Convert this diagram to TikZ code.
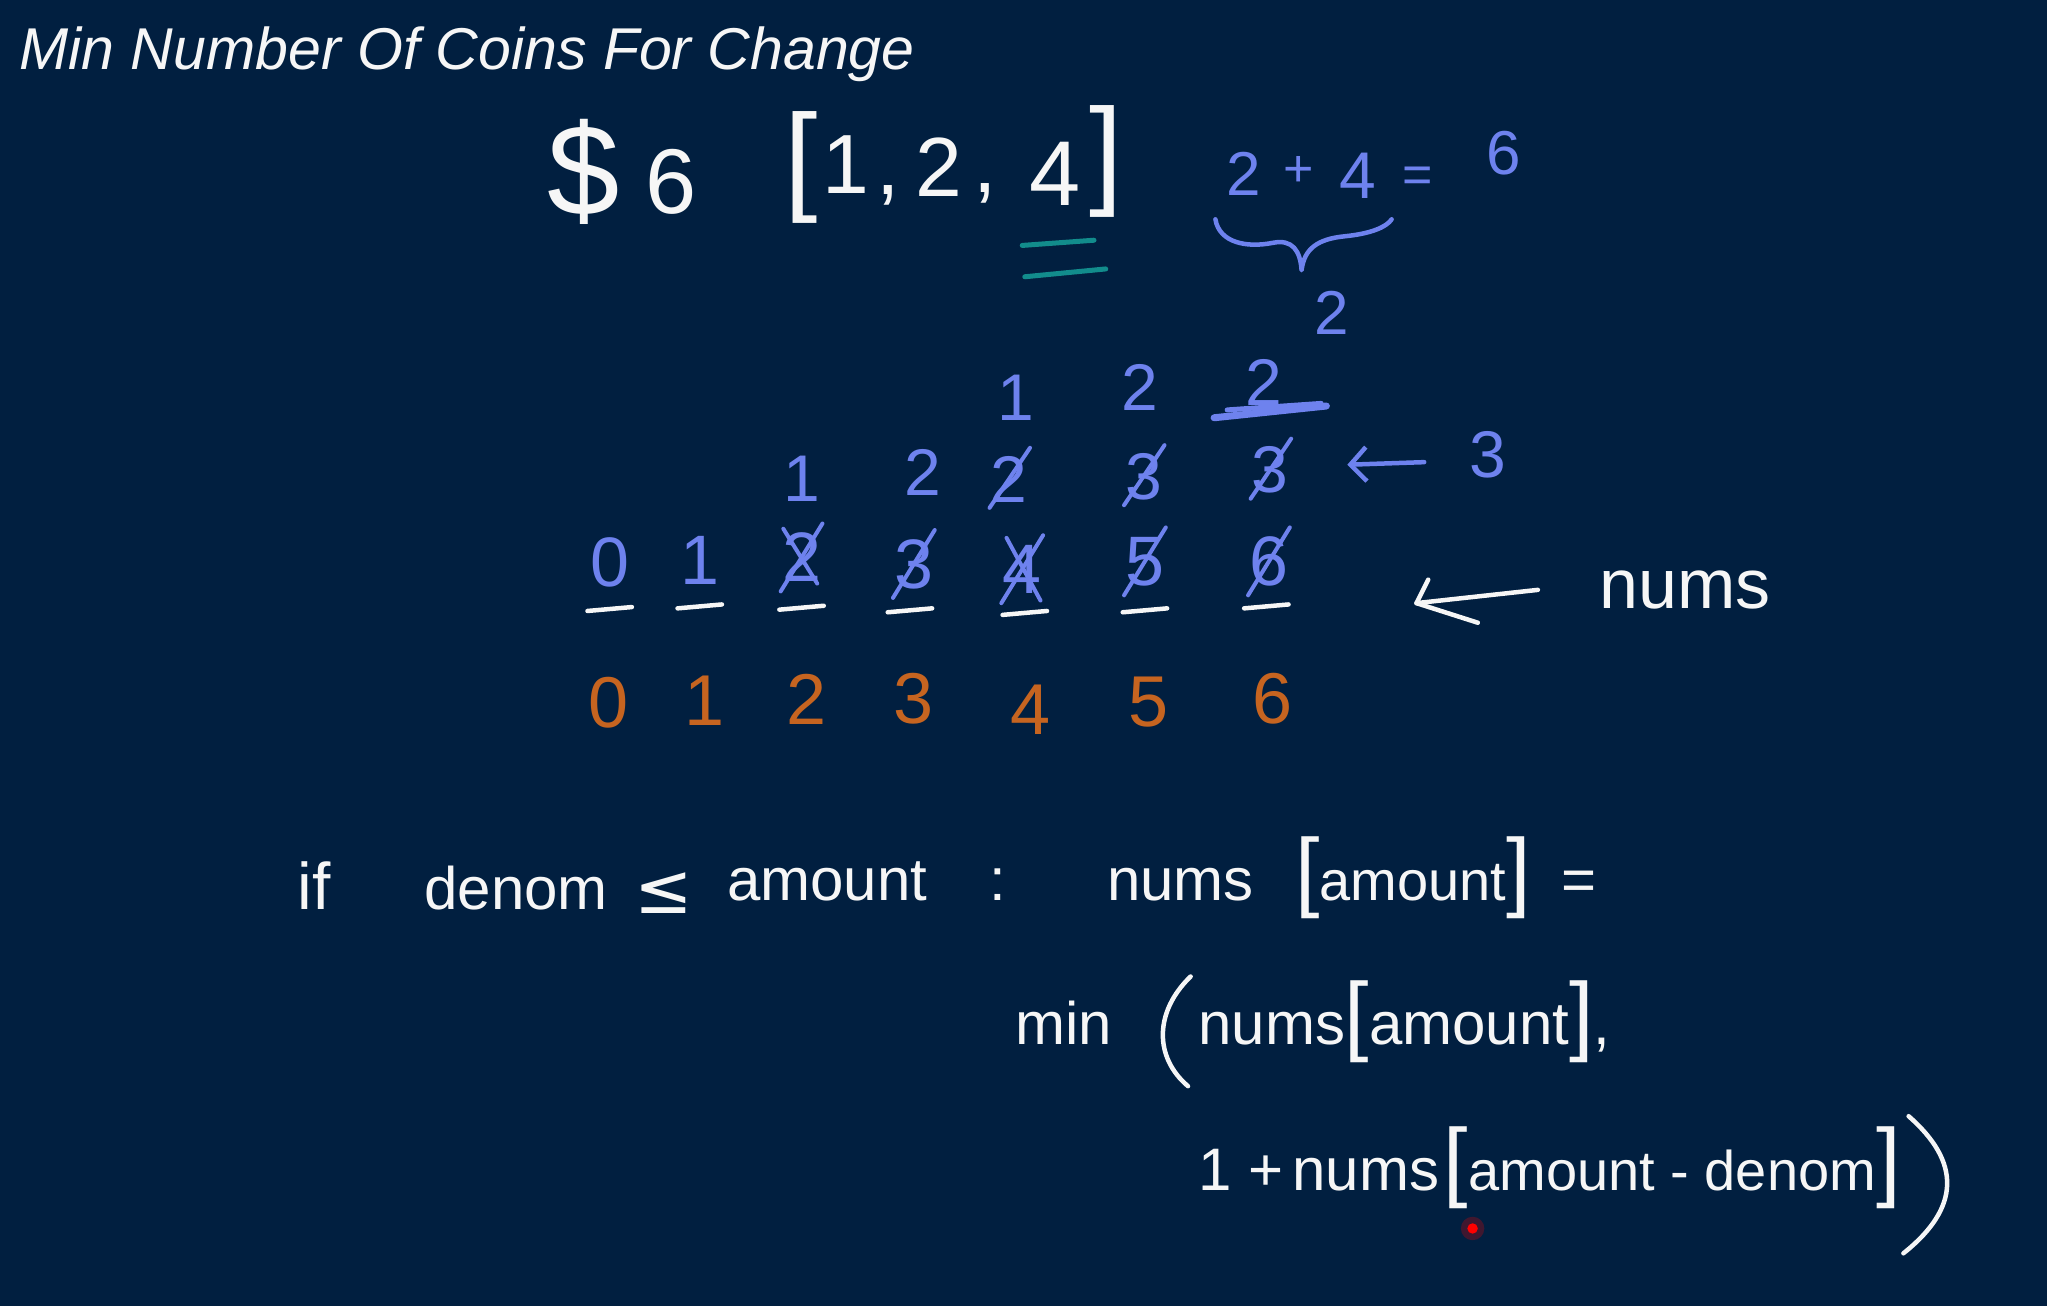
\documentclass[tikz,border=0pt]{standalone}
\usepackage{fontspec}
\setmainfont{Liberation Sans}
\newfontfamily\symfont{DejaVu Sans}
\usetikzlibrary{calc,arrows.meta}
\definecolor{bg}{RGB}{1,31,64}
\definecolor{hblue}{RGB}{110,130,238}
\definecolor{horange}{RGB}{198,100,32}
\definecolor{hteal}{RGB}{18,140,140}
\definecolor{hwhite}{RGB}{246,246,246}
\newcommand\fsz[1]{\fontsize{#1}{#1}\selectfont}
\newcommand\bigbr[1]{{\fsz{88}#1}}
\begin{document}
\begin{tikzpicture}[x=1.3055pt,y=-1.3055pt,
  every node/.style={inner sep=0pt,outer sep=0pt},
  wt/.style={text=hwhite,font=\fsz{60}},
  bt/.style={text=hblue,font=\fsz{66}},
  ot/.style={text=horange,font=\fsz{72}},
  wline/.style={draw=hwhite,line width=4.5pt,line cap=round,line join=round},
  bline/.style={draw=hblue,line width=4.5pt,line cap=round,line join=round},
  tline/.style={draw=hteal,line width=5pt,line cap=round},
  strike/.style={draw=hblue,line width=4pt,line cap=round}]
\fill[bg] (0,0) rectangle (1568,1000);
\useasboundingbox (0,0) rectangle (1568,1000);

% title
\node[anchor=base west,text=hwhite,font=\itshape\fsz{59}] (title) at (15,53) {Min Number Of Coins For Change};

% top row
\node[wt,font=\fsz{130}] (dollar) at (447,132) {\$};
\node[wt,font=\fsz{92}] (six) at (514,139) {6};
\node[wt,font=\fsz{120}] (lbr) at (614,128) {[};
\node[wt,font=\fsz{84}] (c1) at (648,126) {1};
\node[wt,font=\fsz{84}] (cm1) at (680,150) {,};
\node[wt,font=\fsz{84}] (c2) at (719,128) {2};
\node[wt,font=\fsz{84}] (cm2) at (755,148) {,};
\node[wt,font=\fsz{92}] (c4) at (808,133) {4};
\node[wt,font=\fsz{120}] (rbr) at (847,124) {]};
\draw[tline] (783,188) -- (838,184);
\draw[tline] (785,212) -- (847,206);

% 2 + 4 = 6
\node[bt,font=\fsz{62}] (s2) at (953,133) {2};
\node[bt,font=\fsz{52}] (splus) at (995,131) {+};
\node[bt,font=\fsz{66}] (s4) at (1040,135) {4};
\node[bt,font=\fsz{52}] (seq) at (1086,138) {=};
\node[bt,font=\fsz{62}] (s6) at (1152,117) {6};
\draw[bline] (931,168) .. controls (934,186) and (955,190) .. (975,186)
  .. controls (990,183) and (996,192) .. (997,207)
  .. controls (999,190) and (1010,183) .. (1030,181)
  .. controls (1050,179) and (1062,174) .. (1066,168);
\node[bt,font=\fsz{62}] (sres) at (1020,240) {2};

% row 3
\node[bt] (r3a) at (778,305) {1};
\node[bt] (r3b) at (873,297) {2};
\node[bt] (r3c) at (968,293) {2};
\draw[bline,line width=7pt] (930,320) -- (1016,311);
\draw[bline,line width=5pt] (940,314) -- (1012,309);

% row 2
\node[bt] (r2a) at (614,367) {1};
\node[bt] (r2b) at (707,362) {2};
\node[bt] (r2c) at (773,367) {2};
\node[bt] (r2d) at (876,365) {3};
\node[bt] (r2e) at (973,360) {3};
\foreach \n in {r2c,r2d,r2e}
  \draw[strike] ($(\n.center)+(-15,22)$) -- ($(\n.center)+(16,-24)$);
\node[bt] (three) at (1140,348) {3};
\draw[bline,-{Straight Barb[length=16pt,width=34pt]}] ($(three.west)+(-35,6)$) -- (1032,356);

% row 1
\node[bt,font=\fsz{70}] (n0) at (467,431) {0};
\node[bt,font=\fsz{70}] (n1) at (536,429) {1};
\node[bt,font=\fsz{70}] (n2) at (614,427) {2};
\node[bt,font=\fsz{70}] (n3) at (700,432) {3};
\node[bt,font=\fsz{70}] (n4) at (783,436) {4};
\node[bt,font=\fsz{70}] (n5) at (877,430) {5};
\node[bt,font=\fsz{70}] (n6) at (972,430) {6};
\foreach \n in {n2,n3,n4,n5,n6}
  \draw[strike] ($(\n.center)+(-16,26)$) -- ($(\n.center)+(16,-26)$);
\draw[strike] ($(n4.center)+(-12,-24)$) -- ($(n4.center)+(14,24)$);
\draw[strike] ($(n2.center)+(-14,-22)$) -- ($(n2.center)+(12,20)$);

% underlines
\foreach \cx/\cy in {467/467,536/465,614/466,697/468,785/470,877/468,970/465}
  \draw[wline] (\cx-17,\cy+1) -- (\cx+17,\cy-2);

% nums arrow
\node[wt,font=\fsz{70},anchor=base west] (nums) at (1225,466) {nums};
\coordinate (wtip) at (1085,462);
\draw[wline] ($(nums.west)+(-47,0)$) -- (wtip);
\draw[wline] (1094,444) -- (wtip) -- (1132,477);

% orange indices
\node[ot] (o0) at (466,538) {0};
\node[ot] (o1) at (540,537) {1};
\node[ot] (o2) at (618,536) {2};
\node[ot] (o3) at (700,535) {3};
\node[ot] (o4) at (789,544) {4};
\node[ot] (o5) at (880,538) {5};
\node[ot] (o6) at (975,535) {6};

% code line 1
\node[wt,anchor=base west,font=\fsz{66}] (kif) at (228,697) {if};
\node[wt,anchor=base west] (kden) at (325,697) {denom};
\node[wt,anchor=base west,font=\symfont\fsz{70}] (kle) at (486,700) {≤};
\node[wt,anchor=base west] (kamt) at (557,690) {amount};
\node[wt,anchor=base west] (kcol) at (758,690) {:};
\node[wt,anchor=base west] (knums) at (848,690) {nums};
\node[wt,anchor=base west,font=\fsz{56}] (kidx) at (992,690) {\bigbr{[}amount\bigbr{]}};
\node[wt,anchor=base west] (keq) at (1196,690) {=};

% code line 2
\node[wt,anchor=base west] (kmin) at (778,800) {min};
\draw[wline] (912,748) .. controls (884,775) and (884,810) .. (910,832);
\node[wt,anchor=base west] (knums2) at (918,800) {nums};
\node[wt,anchor=base west] (kidx2) at (1030,800) {\bigbr{[}amount\bigbr{]},};

% code line 3
\node[wt,anchor=base west] (kone) at (918,912) {1 +};
\node[wt,anchor=base west] (knums3) at (990,912) {nums};
\node[wt,anchor=base west,font=\fsz{56}] (kidx3) at (1106,912) {\bigbr{[}amount - denom\bigbr{]}};
\draw[wline] (1462,855) .. controls (1502,890) and (1502,925) .. (1458,960);

% laser pointer
\fill[red,opacity=0.25] (1128,941) circle (9);
\fill[red] (1128,941) circle (4);
\end{tikzpicture}
\end{document}
